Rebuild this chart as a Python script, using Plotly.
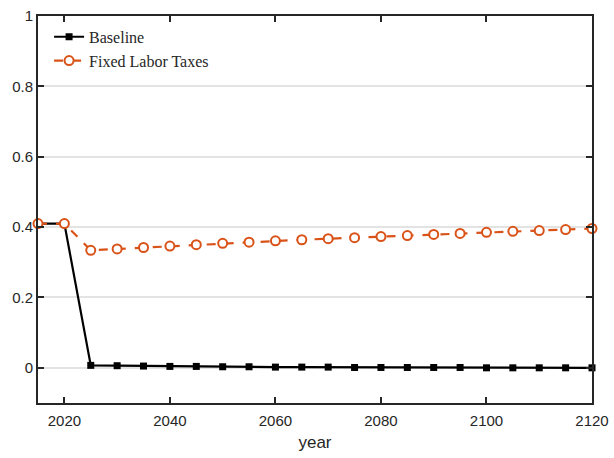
import plotly.graph_objects as go

years = list(range(2015, 2121, 5))
baseline = [0.41, 0.41, 0.007, 0.006, 0.005, 0.004, 0.004, 0.003, 0.003, 0.002, 0.002, 0.002,
            0.001, 0.001, 0.001, 0.001, 0.001, 0.0, 0.0, 0.0, 0.0, 0.0]
fixed_labor = [0.41, 0.41, 0.334, 0.338, 0.342, 0.346, 0.350, 0.354, 0.357, 0.361, 0.364, 0.367,
               0.370, 0.373, 0.376, 0.379, 0.382, 0.385, 0.388, 0.390, 0.393, 0.396]
x_ticks = [2020, 2040, 2060, 2080, 2100, 2120]
y_ticks = [0, 0.2, 0.4, 0.6, 0.8, 1]
y_tick_text = ["0", "0.2", "0.4", "0.6", "0.8", "1"]

orange = "#D95319"

fig = go.Figure()
fig.add_trace(go.Scatter(
    x=years, y=baseline, name="Baseline", mode="lines+markers",
    line=dict(color="black", width=2.2),
    marker=dict(symbol="square", size=7, color="black"),
    cliponaxis=False,
))
fig.add_trace(go.Scatter(
    x=years, y=fixed_labor, name="Fixed Labor Taxes", mode="lines+markers",
    line=dict(color=orange, width=2.2, dash="dash"),
    marker=dict(symbol="circle", size=9, color="white", line=dict(color=orange, width=2)),
    cliponaxis=False,
))

fig.update_layout(
    width=614, height=458,
    margin=dict(l=38, r=22, t=16, b=55),
    plot_bgcolor="white", paper_bgcolor="white",
    font=dict(family="Liberation Sans, Arial, sans-serif", size=15, color="#262626"),
    showlegend=True,
    legend=dict(x=0.02, y=0.99, xanchor="left", yanchor="top",
                bgcolor="rgba(255,255,255,0)", borderwidth=0,
                font=dict(family="Liberation Serif, serif", size=16, color="#262626"),
                tracegroupgap=0, itemwidth=30),
)
fig.update_xaxes(
    range=[2015, 2120], tickvals=x_ticks, showgrid=False, zeroline=False,
    showline=True, linecolor="#262626", linewidth=2, mirror="ticks",
    ticks="inside", ticklen=6, tickwidth=2, tickcolor="#262626",
    title=dict(text="year", font=dict(size=17), standoff=8),
    tickfont=dict(size=15), ticklabelstandoff=3, automargin=False,
)
fig.update_yaxes(
    range=[-0.1, 1], tickvals=y_ticks, ticktext=y_tick_text,
    showgrid=True, gridcolor="#e3e3e3", gridwidth=2, zeroline=False,
    showline=True, linecolor="#262626", linewidth=2, mirror="ticks",
    ticks="inside", ticklen=6, tickwidth=2, tickcolor="#262626",
    tickfont=dict(size=15), automargin=False,
)
fig.write_html("out.html")
